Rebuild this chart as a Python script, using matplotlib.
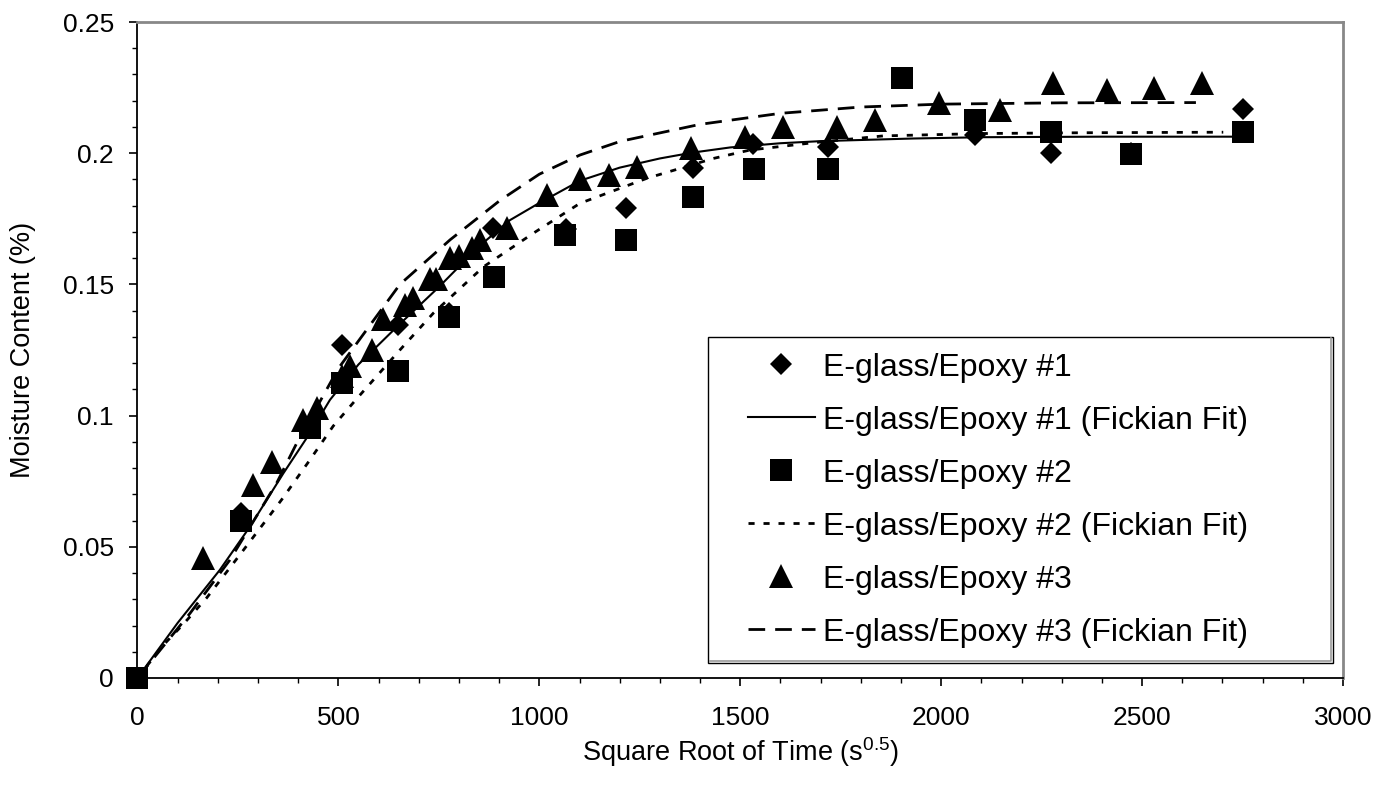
import matplotlib
matplotlib.use("Agg")
import matplotlib.pyplot as plt
from matplotlib.patches import Rectangle
from matplotlib.ticker import MultipleLocator

plt.rcParams["font.family"] = ["Liberation Sans", "DejaVu Sans"]
plt.rcParams["mathtext.fontset"] = "custom"
plt.rcParams["mathtext.rm"] = "Liberation Sans"

# Measured moisture uptake, E-glass/Epoxy specimen #1
x1 = [0, 257, 509, 648, 774, 885, 1066, 1216, 1382, 1531, 1718, 2083, 2273, 2472, 2751]
y1 = [0, 0.063, 0.127, 0.1345, 0.139, 0.1715, 0.171, 0.179, 0.1942, 0.2035, 0.2022, 0.207, 0.200, 0.200, 0.2168]

# Specimen #2
x2 = [0, 257, 429, 509, 648, 774, 886, 1063, 1216, 1382, 1535, 1718, 1903, 2085, 2273, 2472, 2751]
y2 = [0, 0.0597, 0.0954, 0.1124, 0.117, 0.1375, 0.1527, 0.169, 0.1669, 0.1834, 0.1939, 0.1939, 0.2285, 0.2125, 0.2082, 0.1996, 0.2082]

# Specimen #3
x3 = [164, 288, 334, 413, 446, 509, 530, 584, 612, 665, 685, 728, 743, 778, 800, 833, 853,
      919, 1018, 1101, 1173, 1244, 1378, 1512, 1607, 1740, 1835, 1995, 2147, 2279, 2412, 2530, 2650]
y3 = [0.0456, 0.0737, 0.0823, 0.0983, 0.1028, 0.115, 0.119, 0.125, 0.137, 0.142, 0.145, 0.152, 0.152, 0.160, 0.161, 0.164, 0.167,
      0.1715, 0.184, 0.190, 0.1917, 0.1949, 0.2019, 0.206, 0.210, 0.210, 0.2127, 0.219, 0.2165, 0.2266, 0.2241, 0.2247, 0.2266]

# Fickian fit curves
fx1 = [0, 100, 205, 280, 363, 429, 479, 550, 650, 750, 850, 927, 994, 1101, 1200, 1300, 1380, 1475, 1600, 1700, 1930, 2105, 2400, 2751]
fy1 = [0, 0.021, 0.0412, 0.0577, 0.078, 0.0933, 0.106, 0.1195, 0.1345, 0.149, 0.1645, 0.1745, 0.1805, 0.1895, 0.1945, 0.1980, 0.2002, 0.2022, 0.2038, 0.2046, 0.2056, 0.2061, 0.2063, 0.2063]

fx2 = [0, 64, 114, 172, 255, 359, 429, 487, 546, 653, 736, 861, 985, 1101, 1267, 1433, 1524, 1682, 1856, 2100, 2353, 2702]
fy2 = [0, 0.0125, 0.0205, 0.0305, 0.0470, 0.0680, 0.0831, 0.0960, 0.1065, 0.125, 0.139, 0.1567, 0.1695, 0.1809, 0.1904, 0.198, 0.2012, 0.2040, 0.2066, 0.2075, 0.2078, 0.2080]

fx3 = [0, 131, 230, 346, 396, 500, 653, 778, 902, 1000, 1101, 1201, 1400, 1600, 1800, 2000, 2300, 2634]
fy3 = [0, 0.0247, 0.045, 0.0742, 0.0894, 0.118, 0.150, 0.167, 0.182, 0.192, 0.1993, 0.2045, 0.211, 0.2152, 0.2176, 0.2187, 0.2192, 0.2193]

x_ticks = [0, 500, 1000, 1500, 2000, 2500, 3000]
y_ticks = [0, 0.05, 0.1, 0.15, 0.2, 0.25]
y_tick_labels = ["0", "0.05", "0.1", "0.15", "0.2", "0.25"]

fig = plt.figure(figsize=(13.93, 7.89), dpi=100)
ax = fig.add_axes([0.0987, 0.1407, 0.8654, 0.8314])

ax.plot(x1, y1, linestyle="none", marker="D", ms=11.5, color="black", mew=0, label="E-glass/Epoxy #1", zorder=3, clip_on=False)
ax.plot(fx1, fy1, "-", color="black", lw=1.5, label="E-glass/Epoxy #1 (Fickian Fit)", zorder=2)
ax.plot(x2, y2, linestyle="none", marker="s", ms=16, color="black", mew=0, label="E-glass/Epoxy #2", zorder=3, clip_on=False)
ax.plot(fx2, fy2, color="black", lw=2.0, linestyle=(0, (2.2, 3.2)), label="E-glass/Epoxy #2 (Fickian Fit)", zorder=2)
ax.plot(x3, y3, linestyle="none", marker="^", ms=17.5, color="black", mew=0, label="E-glass/Epoxy #3", zorder=3, clip_on=False)
ax.plot(fx3, fy3, color="black", lw=2.0, linestyle=(0, (6, 3.6)), label="E-glass/Epoxy #3 (Fickian Fit)", zorder=2)

ax.set_xlim(0, 3000)
ax.set_ylim(0, 0.25)
ax.set_xticks(x_ticks)
ax.set_yticks(y_ticks)
ax.set_yticklabels(y_tick_labels)
ax.xaxis.set_minor_locator(MultipleLocator(100))
ax.yaxis.set_minor_locator(MultipleLocator(0.01))
ax.tick_params(axis="both", which="major", direction="out", length=6, width=1.2, labelsize=19, color="black")
ax.tick_params(axis="both", which="minor", direction="out", length=3.5, width=1.0, color="black")
ax.tick_params(axis="x", which="major", pad=14)
ax.tick_params(axis="y", which="major", pad=11)

for side in ("left", "bottom"):
    ax.spines[side].set_color("black")
    ax.spines[side].set_linewidth(1.3)
for side in ("top", "right"):
    ax.spines[side].set_color("#888888")
    ax.spines[side].set_linewidth(2.0)

ax.set_xlabel(r"Square Root of Time (s$^{\mathregular{0.5}}$)", fontsize=19.5, labelpad=4)
ax.set_ylabel("Moisture Content (%)", fontsize=19.5, labelpad=19)

# legend box drawn separately so the entries can sit with a wide left margin
box_x, box_y, box_w, box_h = 0.4733, 0.0229, 0.5184, 0.4969
ax.add_patch(Rectangle((box_x, box_y), box_w, box_h, transform=ax.transAxes,
                       facecolor="white", edgecolor="black", lw=1.0, zorder=4))
# soft grey inner edge along the right and bottom of the box
ax.plot([box_x + 0.002, box_x + box_w - 0.0015, box_x + box_w - 0.0015],
        [box_y + 0.003, box_y + 0.003, box_y + box_h - 0.002],
        transform=ax.transAxes, color="#9a9a9a", lw=1.2, zorder=4.5)
leg = ax.legend(loc="center left", bbox_to_anchor=(0.5064, 0.2713), fontsize=23, frameon=False,
                handlelength=2.1, handletextpad=0.25, labelspacing=0.72, borderpad=0,
                borderaxespad=0)
leg.set_zorder(5)

fig.savefig("out.png", dpi=100)
